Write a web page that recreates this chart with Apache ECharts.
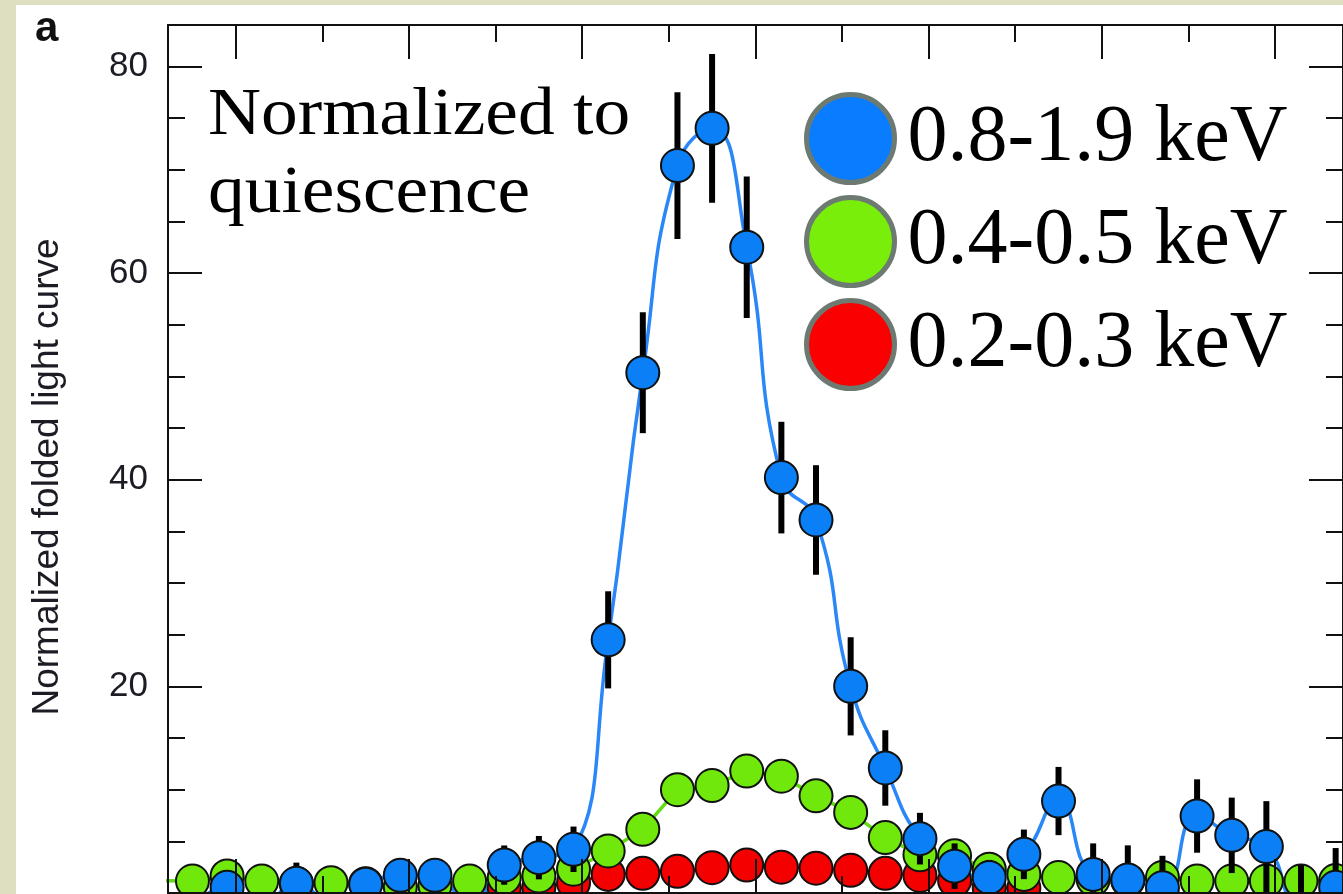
<!DOCTYPE html>
<html>
<head>
<meta charset="utf-8">
<script src="https://cdn.jsdelivr.net/npm/echarts@6/dist/echarts.min.js"></script>
<style>
html,body{margin:0;padding:0;background:#dedfc0;}
#c{width:1343px;height:894px;}
</style>
</head>
<body>
<div id="c"></div>
<script>
// ---- data ----
const phase = [0.055,0.075,0.095,0.115,0.135,0.155,0.175,0.195,0.215,0.235,0.255,0.275,0.295,0.315,0.335,0.355,0.375,0.395,0.415,0.435,0.455,0.475,0.495,0.515,0.535,0.555,0.575,0.595,0.615,0.635,0.655,0.675,0.695,0.715,0.735];
const blueHard = [null,-1.2,0.55,-1.0,0.94,-0.8,0.84,1.71,1.71,-1.2,2.7,3.42,4.23,24.5,50.35,70.4,74.0,62.5,40.2,36.1,20.0,12.1,5.26,2.6,1.5,3.74,8.9,1.8,1.26,0.5,7.45,5.58,4.49,-1.5,0.55];
const blueErr = [null,null,1.6,null,2.0,null,0.8,1.2,1.2,null,1.9,2.1,2.2,4.7,5.85,7.1,7.2,6.85,5.4,5.3,4.75,3.65,2.5,2.2,1.7,2.4,3.3,3.0,3.35,3.1,3.55,3.65,4.4,4.2,3.8];
const greenMid = [1.2,1.16,1.65,1.16,0.9,1.0,0.9,0.6,0.7,1.16,1.5,1.65,2.3,4.07,6.16,10.0,10.4,11.8,11.3,9.4,7.8,5.36,3.7,3.6,2.3,1.8,1.5,1.3,1.2,1.5,1.16,1.16,1.16,1.16,1.2];
const redSoft = [null,null,null,null,null,null,null,null,null,null,0.5,0.55,1.0,1.8,1.9,2.1,2.45,2.7,2.5,2.4,2.2,1.9,1.7,1.2,0.5,0.5,null,null,null,null,null,null,null,null,null];
const seriesNames = ['0.8-1.9 keV','0.4-0.5 keV','0.2-0.3 keV'];
const xMajorTicks = [0.1,0.2,0.3,0.4,0.5,0.6,0.7];
const xMinorTicks = [0.15,0.25,0.35,0.45,0.55,0.65];
const yMajorTicks = [0,20,40,60,80];
const yMinorTicks = [5,10,15,25,30,35,45,50,55,65,70,75];
const yTickLabels = [20,40,60,80];
const yAxisTitle = 'Normalized folded light curve';
const noteText = 'Normalized to\nquiescence';
const panelLetter = 'a';

const X_MIN = 0.06088, X_MAX = 0.73924, Y_MIN = 0, Y_MAX = 84;
const C_BLUE = '#0b7ff5', C_GREEN = '#70e80c', C_RED = '#f40000';
const C_LINE = '#2a87f7';
const AX = '#111';

const pair = (ys) => phase.map((p, i) => [p, ys[i]]);

function xAx(pos, ticks, len, showLine) {
  return {
    type: 'value', position: pos, min: X_MIN, max: X_MAX, z: 10,
    axisLine: {show: showLine, onZero: false, lineStyle: {color: AX, width: 2}},
    axisTick: {show: true, inside: true, length: len, customValues: ticks, lineStyle: {color: AX, width: 2}},
    axisLabel: {show: false}, splitLine: {show: false}
  };
}
function yAx(pos, ticks, len, showLine, labels) {
  return {
    type: 'value', position: pos, min: Y_MIN, max: Y_MAX, z: 10,
    axisLine: {show: showLine, onZero: false, lineStyle: {color: AX, width: 2}},
    axisTick: {show: true, inside: true, length: len, customValues: ticks, lineStyle: {color: AX, width: 2}},
    axisLabel: labels ? {show: true, customValues: labels, margin: 20, fontSize: 35,
      fontFamily: 'Liberation Sans', color: '#1c1c24'} : {show: false},
    splitLine: {show: false}
  };
}

const chart = echarts.init(document.getElementById('c'), null, {renderer: 'canvas'});
chart.setOption({
  animation: false,
  backgroundColor: 'transparent',
  grid: {left: 168, top: 25, width: 1179, height: 868, containLabel: false},
  xAxis: [
    xAx('bottom', xMajorTicks, 34, true),
    xAx('bottom', xMinorTicks, 17, false),
    xAx('top', xMajorTicks, 34, true),
    xAx('top', xMinorTicks, 17, false)
  ],
  yAxis: [
    yAx('left', yMajorTicks, 34, true, yTickLabels),
    yAx('left', yMinorTicks, 17, false, null),
    yAx('right', yMajorTicks, 34, true, null),
    yAx('right', yMinorTicks, 17, false, null)
  ],
  legend: {
    orient: 'vertical', left: 804, top: 92, padding: 0,
    itemWidth: 88, itemHeight: 88, itemGap: 10, icon: 'circle',
    selectedMode: false,
    itemStyle: {borderColor: '#6d7a72', borderWidth: 5},
    textStyle: {fontFamily: 'Liberation Serif', fontSize: 80, color: '#000', lineHeight: 74, padding: [14, 0, 0, 8]},
    data: [
      {name: seriesNames[0], itemStyle: {color: '#0a7cff'}},
      {name: seriesNames[1], itemStyle: {color: '#78ee0a'}},
      {name: seriesNames[2], itemStyle: {color: '#fa0000'}}
    ]
  },
  graphic: [
    {type: 'rect', z: -100, silent: true, shape: {x: 16, y: 5, width: 1400, height: 950}, style: {fill: '#ffffff'}},
    {type: 'text', x: 35, y: 29, silent: true,
      style: {text: panelLetter, font: 'bold 42px "Liberation Sans"', fill: '#111', verticalAlign: 'middle'}},
    {type: 'text', x: 48, y: 477, rotation: Math.PI / 2, silent: true,
      style: {text: yAxisTitle, font: '37px "Liberation Sans"', fill: '#1c1c24', align: 'center', verticalAlign: 'middle'}},
    {type: 'text', x: 208, y: 77, scaleX: 1.08, silent: true, z: 20,
      style: {text: noteText, font: '68px "Liberation Serif"', fill: '#000', lineHeight: 78, verticalAlign: 'top'}}
  ],
  series: [
    {
      name: 'model', type: 'line', z: 1, smooth: true, showSymbol: false, clip: true,
      data: pair(blueHard), lineStyle: {color: C_LINE, width: 3.5}, silent: true
    },
    {
      name: seriesNames[2], type: 'line', z: 2, clip: true, symbol: 'circle', symbolSize: 33, showAllSymbol: true,
      data: pair(redSoft), lineStyle: {color: C_RED, width: 3},
      itemStyle: {color: C_RED, borderColor: '#111', borderWidth: 2}
    },
    {
      name: seriesNames[1], type: 'line', z: 3, clip: true, symbol: 'circle', symbolSize: 33, showAllSymbol: true,
      data: pair(greenMid), lineStyle: {color: '#62dc10', width: 3.5},
      itemStyle: {color: C_GREEN, borderColor: '#111', borderWidth: 2}
    },
    {
      name: 'errors', type: 'custom', z: 4, clip: true, silent: true,
      data: phase.map((p, i) => [p, blueHard[i], blueErr[i]]).filter(d => d[1] != null && d[2] != null),
      encode: {x: 0, y: 1},
      renderItem: function (params, api) {
        const x = api.value(0), v = api.value(1), e = api.value(2);
        if (v + e < Y_MIN) return null;
        const lo = api.coord([x, Math.max(v - e, Y_MIN)]);
        const hi = api.coord([x, Math.min(v + e, Y_MAX)]);
        return {type: 'line', shape: {x1: lo[0], y1: lo[1], x2: hi[0], y2: hi[1]},
          style: {stroke: '#000', lineWidth: 6}};
      }
    },
    {
      name: seriesNames[0], type: 'scatter', z: 5, clip: true, symbol: 'circle', symbolSize: 33,
      data: pair(blueHard).filter(d => d[1] != null),
      itemStyle: {color: C_BLUE, borderColor: '#111', borderWidth: 2, opacity: 1}
    }
  ]
});
</script>
</body>
</html>
